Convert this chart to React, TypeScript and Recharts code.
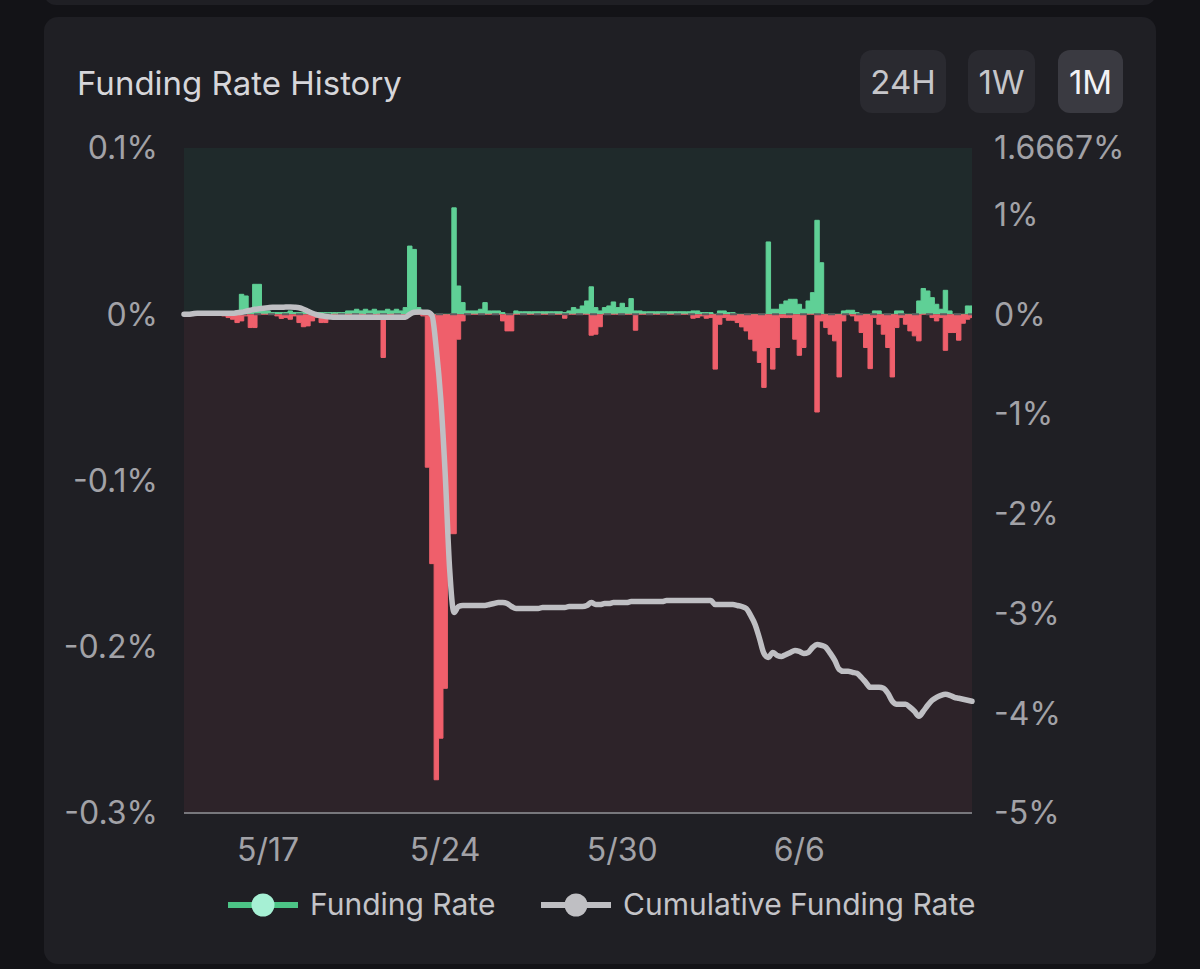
import React from "react";
import {
  ComposedChart, Area, Line, XAxis, YAxis, ReferenceArea, ReferenceLine,
} from "recharts";

// funding rate, % per 4h bucket: upward (green) and downward (red) excursions
const fundingUp = [
  0.001, 0.001, 0.001, 0.001, 0.001, 0.001, 0.001, 0.001, 0.001, 0.001,
  0.001, 0.001, 0.002, 0.012, 0.011, 0.002, 0.018, 0.018, 0.002, 0.002,
  0.001, 0.001, 0.001, 0.001, 0.002, 0.001, 0.001, 0.001, 0.001, 0.001,
  0.001, 0.001, 0.001, 0.001, 0.001, 0.001, 0.001, 0.002, 0.002, 0.003,
  0.002, 0.003, 0.002, 0.003, 0.002, 0.002, 0.003, 0.002, 0.003, 0.002,
  0.004, 0.041, 0.039, 0.004, 0.002, 0, 0, 0, 0, 0,
  0, 0.064, 0.017, 0.007, 0.002, 0.002, 0.002, 0.003, 0.007, 0.002,
  0.002, 0.002, 0.001, 0, 0, 0.002, 0.0015, 0.0015, 0.0015, 0.0015,
  0.0015, 0.0015, 0.0015, 0.0015, 0.0015, 0.0015, 0.001, 0.002, 0.004, 0.003,
  0.005, 0.008, 0.0165, 0.004, 0.002, 0.004, 0.005, 0.0074, 0.004, 0.0066,
  0.004, 0.0094, 0.002, 0.002, 0.0015, 0.0015, 0.0015, 0.0015, 0.0015, 0.0015,
  0.0015, 0.0015, 0.0015, 0.0015, 0.0015, 0.002, 0.002, 0.001, 0.001, 0.001,
  0, 0.002, 0.002, 0.001, 0.001, 0, 0, 0, 0, 0,
  0, 0, 0.0435, 0.003, 0.003, 0.006, 0.008, 0.009, 0.009, 0.006,
  0.003, 0.008, 0.013, 0.0565, 0.031, 0, 0, 0, 0, 0.002,
  0.0024, 0.0024, 0.001, 0, 0, 0, 0.002, 0.002, 0, 0,
  0, 0.002, 0.002, 0, 0, 0, 0.008, 0.0155, 0.014, 0.01,
  0.006, 0.003, 0.0144, 0.002, 0, 0, 0, 0.005, 0.005,
];

const fundingDown = [
  0, 0, 0, 0, 0, 0, 0, 0, 0, -0.001,
  -0.002, -0.003, -0.005, -0.004, -0.001, -0.008, -0.008, 0, 0, 0,
  0, -0.001, -0.0025, -0.002, -0.003, -0.001, -0.005, -0.0075, -0.007, -0.004,
  -0.002, -0.005, -0.005, -0.001, 0, 0, -0.001, 0, 0, -0.001,
  0, -0.001, 0, -0.001, 0, -0.026, -0.001, 0, -0.002, -0.001,
  -0.002, 0, 0, 0, -0.001, -0.092, -0.15, -0.28, -0.255, -0.225,
  -0.132, -0.132, -0.015, -0.004, 0, 0, 0, 0, 0, 0,
  0, 0, -0.004, -0.01, -0.01, 0, 0, 0, 0, 0,
  0, 0, 0, 0, 0, 0, -0.0024, 0, 0, 0,
  0, 0, -0.0126, -0.012, -0.0075, 0, 0, 0, 0, 0,
  0, 0, -0.0096, 0, 0, 0, 0, 0, 0, 0,
  0, 0, 0, 0, 0, -0.0024, -0.002, -0.001, -0.0024, -0.002,
  -0.033, -0.006, -0.002, -0.0036, -0.0036, -0.005, -0.0076, -0.01, -0.015, -0.022,
  -0.029, -0.044, -0.02, -0.033, -0.02, -0.002, -0.002, -0.002, -0.015, -0.0247,
  -0.02, 0, 0, -0.0588, -0.004, -0.008, -0.012, -0.016, -0.0377, -0.004,
  0, -0.001, -0.004, -0.011, -0.02, -0.0327, -0.002, -0.006, -0.012, -0.02,
  -0.0377, -0.008, -0.002, -0.006, -0.01, -0.013, -0.016, 0, 0, -0.002,
  -0.004, -0.002, -0.0217, -0.011, -0.011, -0.0156, -0.0054, -0.003, -0.002,
];

// cumulative funding rate, %
const cumulative = [
  0, 0, 0.005, 0.01, 0.01, 0.01, 0.01, 0.01, 0.01, 0.01,
  0.01, 0.01, 0.015, 0.02, 0.03, 0.04, 0.05, 0.055, 0.06, 0.065,
  0.07, 0.07, 0.07, 0.072, 0.072, 0.07, 0.065, 0.05, 0.03, 0.01,
  -0.005, -0.015, -0.022, -0.027, -0.03, -0.03, -0.03, -0.03, -0.03, -0.03,
  -0.03, -0.03, -0.03, -0.03, -0.03, -0.03, -0.03, -0.03, -0.03, -0.03,
  -0.03, 0, 0.02, 0.023, 0.02, 0.02, -0.01, -0.35, -0.85, -1.6,
  -2.55, -2.99, -2.93, -2.92, -2.92, -2.92, -2.92, -2.92, -2.92, -2.91,
  -2.9, -2.89, -2.89, -2.9, -2.93, -2.95, -2.95, -2.95, -2.95, -2.95,
  -2.95, -2.94, -2.94, -2.94, -2.94, -2.94, -2.94, -2.93, -2.93, -2.93,
  -2.93, -2.92, -2.89, -2.91, -2.91, -2.9, -2.9, -2.89, -2.89, -2.89,
  -2.89, -2.88, -2.88, -2.88, -2.88, -2.88, -2.88, -2.88, -2.88, -2.87,
  -2.87, -2.87, -2.87, -2.87, -2.87, -2.87, -2.87, -2.87, -2.87, -2.87,
  -2.91, -2.91, -2.91, -2.91, -2.91, -2.92, -2.93, -2.95, -3.02, -3.11,
  -3.25, -3.4, -3.44, -3.39, -3.42, -3.43, -3.41, -3.39, -3.37, -3.38,
  -3.4, -3.39, -3.34, -3.31, -3.32, -3.34, -3.4, -3.47, -3.56, -3.58,
  -3.58, -3.59, -3.6, -3.64, -3.69, -3.74, -3.74, -3.74, -3.75, -3.8,
  -3.88, -3.91, -3.91, -3.91, -3.94, -3.98, -4.03, -3.98, -3.92, -3.87,
  -3.84, -3.82, -3.81, -3.82, -3.84, -3.85, -3.86, -3.87, -3.88,
];

const dateTickIndex = [19, 59, 99, 139];
const dateTickLabels = ["5/17", "5/24", "5/30", "6/6"];
const leftTicks = [0.1, 0, -0.1, -0.2, -0.3];
const rightTicks = [1.6667, 1, 0, -1, -2, -3, -4, -5];
const ranges = ["24H", "1W", "1M"];

const GREEN = "#5fd096";
const RED = "#ef5f6b";
const GREY = "#bfbfc3";
const CARD = "#1f1f24";
const FONT = 'Inter, "Noto Sans", sans-serif';

const rows = cumulative.map((cum, i) => ({
  i,
  up: fundingUp[i],
  down: fundingDown[i],
  cum,
}));

const tickStyle = { fill: "#a2a2a7", fontSize: 32, fontFamily: FONT };

function LegendIcon({ line, dot }: { line: string; dot: string }) {
  return (
    <svg width={70} height={28} style={{ display: "block" }}>
      <line x1={0} y1={14} x2={70} y2={14} stroke={line} strokeWidth={6} />
      <circle cx={35} cy={14} r={11.5} fill={dot} />
    </svg>
  );
}

export default function App() {
  return (
    <div style={{ position: "relative", width: 1200, height: 969, background: "#131317", overflow: "hidden", fontFamily: FONT }}>
      <style>{"body{margin:0;background:#131317}"}</style>
      <div style={{ position: "absolute", left: 44, top: -20, width: 1112, height: 25, background: CARD, borderRadius: 12 }} />
      <div style={{ position: "absolute", left: 44, top: 17, width: 1112, height: 947, background: CARD, borderRadius: 14 }} />

      <div style={{ position: "absolute", left: 77, top: 67, fontSize: 33, lineHeight: 1, color: "#d6d6da" }}>
        Funding Rate History
      </div>

      {ranges.map((r, k) => {
        const lefts = [860, 968, 1058];
        const widths = [86, 67, 65];
        const active = r === "1M";
        return (
          <div
            key={r}
            style={{
              position: "absolute", left: lefts[k], top: 50, width: widths[k], height: 63,
              borderRadius: 12, background: active ? "#3a3a41" : "#2a2a30",
              color: active ? "#f2f2f4" : "#c6c6ca", fontSize: 33,
              display: "flex", alignItems: "center", justifyContent: "center",
            }}
          >
            {r}
          </div>
        );
      })}

      <div style={{ position: "absolute", left: 56, top: 110 }}>
        <ComposedChart width={1084} height={760} data={rows} margin={{ top: 38, right: 0, bottom: 0, left: 0 }}>
          <XAxis
            dataKey="i" type="number" domain={[0, 178]} ticks={dateTickIndex} interval={0}
            tickFormatter={(v) => dateTickLabels[dateTickIndex.indexOf(v)] ?? ""}
            tick={tickStyle} tickLine={false} tickSize={0} tickMargin={25} height={57}
            axisLine={{ stroke: "#77777c", strokeWidth: 2 }}
          />
          <YAxis
            yAxisId="left" orientation="left" width={128} domain={[-0.3, 0.1]} ticks={leftTicks}
            interval={0} allowDataOverflow tickFormatter={(v) => `${v}%`} tick={tickStyle}
            tickLine={false} axisLine={false} tickSize={0} tickMargin={26}
          />
          <YAxis
            yAxisId="right" orientation="right" width={168} domain={[-5, 1.6667]} ticks={rightTicks}
            interval={0} allowDataOverflow tickFormatter={(v) => `${v}%`} tick={tickStyle}
            tickLine={false} axisLine={false} tickSize={0} tickMargin={22}
          />
          <ReferenceArea yAxisId="left" y1={0} y2={0.1} fill="#1f2a2b" fillOpacity={1} stroke="none" />
          <ReferenceArea yAxisId="left" y1={-0.3} y2={0} fill="#2d2329" fillOpacity={1} stroke="none" />
          <ReferenceLine yAxisId="left" y={0} stroke="#5c5c60" strokeWidth={2} strokeDasharray="7 7" />
          <Area
            yAxisId="left" dataKey="up" type="step" baseValue={0} stroke={GREEN} strokeWidth={1}
            fill={GREEN} fillOpacity={1} dot={false} activeDot={false} isAnimationActive={false}
          />
          <Area
            yAxisId="left" dataKey="down" type="step" baseValue={0} stroke={RED} strokeWidth={1}
            fill={RED} fillOpacity={1} dot={false} activeDot={false} isAnimationActive={false}
          />
          <Line
            yAxisId="right" dataKey="cum" type="monotone" stroke={GREY} strokeWidth={5.5}
            strokeLinejoin="round" strokeLinecap="round" dot={false} activeDot={false} isAnimationActive={false}
          />
        </ComposedChart>
      </div>

      <div style={{ position: "absolute", left: 228, top: 891 }}>
        <LegendIcon line="#4cc486" dot="#a6f0d4" />
      </div>
      <div style={{ position: "absolute", left: 310, top: 888, fontSize: 30, lineHeight: 1.1, color: "#c4c4c8" }}>
        Funding Rate
      </div>
      <div style={{ position: "absolute", left: 541, top: 891 }}>
        <LegendIcon line={GREY} dot={GREY} />
      </div>
      <div style={{ position: "absolute", left: 623, top: 888, fontSize: 30, lineHeight: 1.1, color: "#c4c4c8" }}>
        Cumulative Funding Rate
      </div>
    </div>
  );
}
